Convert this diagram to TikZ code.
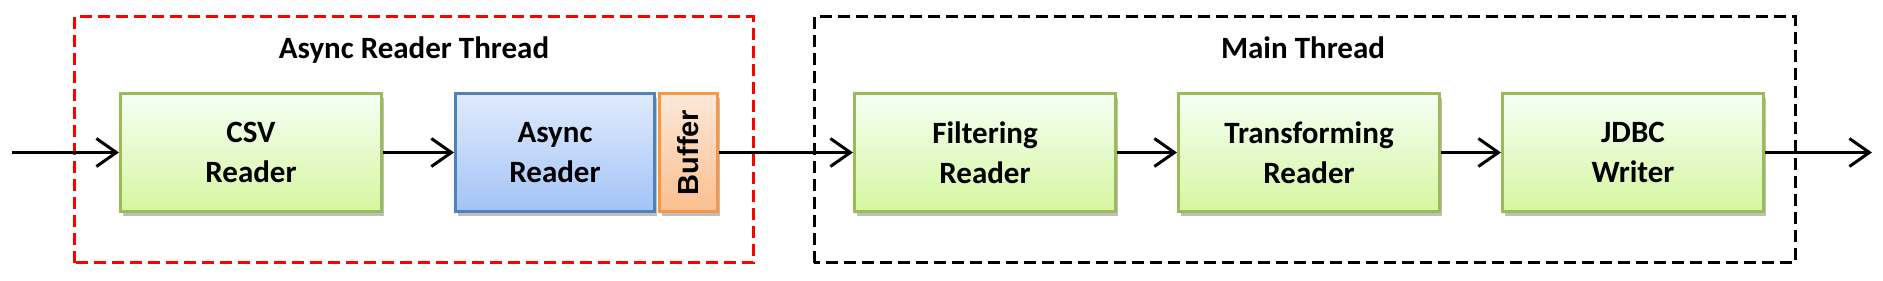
\documentclass[tikz,border=0pt]{standalone}
\usepackage{fontspec}
\setmainfont{Carlito}
\newfontfamily\bufferfont{Liberation Sans}
\usetikzlibrary{arrows.meta,shadows}

\definecolor{readergreen}{HTML}{9BBB59}
\definecolor{readerblue}{HTML}{4F81BD}
\definecolor{bufferorange}{HTML}{F79646}
\definecolor{threadred}{HTML}{FF0000}

\begin{document}
\begin{tikzpicture}[x=1pt,y=1pt,>={Straight Barb[length=20pt,width=28pt]},
    stage/.style={rectangle,line width=3pt,minimum height=118pt,align=center,
      font=\fontsize{31}{40}\selectfont\bfseries,
      drop shadow={shadow xshift=2pt,shadow yshift=-5pt,opacity=0.25,fill=black}},
    greenstage/.style={stage,draw=readergreen,top color=green!4!white,bottom color={rgb,255:red,214;green,246;blue,160}},
    bluestage/.style={stage,draw=readerblue,top color={rgb,255:red,224;green,235;blue,252},bottom color={rgb,255:red,163;green,195;blue,247}},
    bufferstage/.style={stage,draw=bufferorange,top color={rgb,255:red,253;green,232;blue,218},bottom color={rgb,255:red,251;green,191;blue,142}},
    thread/.style={line width=3pt,dash pattern=on 12pt off 6pt},
    flow/.style={->,line width=3pt},
    title/.style={anchor=base,font=\fontsize{31}{40}\selectfont\bfseries}]
    \useasboundingbox (0,0) rectangle (1883,281);
    % Thread frames (drawn first, behind the readers)
    \draw[thread,draw=threadred] (74,18) rectangle (753,264);
    \draw[thread,draw=black] (814,18) rectangle (1795,264);
    \node[title] (asynctitle) at (414,222) {Async Reader Thread};
    \node[title] (maintitle) at (1303,222) {Main Thread};
    % Readers and writer
    \node[greenstage,minimum width=261pt] (csv) at (251,128.5) {CSV\\Reader};
    \node[bluestage,minimum width=199pt] (async) at (555,128.5) {Async\\Reader};
    \node[bufferstage,minimum width=58pt] (buffer) at (688.5,128.5)
      {\rotatebox{90}{\bufferfont\fontsize{29}{30}\selectfont\bfseries Buffer}};
    \node[greenstage,minimum width=261pt] (filter) at (985,128.5) {Filtering\\Reader};
    \node[greenstage,minimum width=261pt] (transform) at (1309,128.5) {Transforming\\Reader};
    \node[greenstage,minimum width=261pt] (jdbc) at (1633,128.5) {JDBC\\Writer};
    % Data flow
    \coordinate (in) at (12,128.5);
    \coordinate (out) at (1872,128.5);
    \draw[flow] (in) -- (csv);
    \draw[flow] (csv) -- (async);
    \draw[flow] (buffer) -- (filter);
    \draw[flow] (filter) -- (transform);
    \draw[flow] (transform) -- (jdbc);
    \draw[flow] (jdbc) -- (out);
\end{tikzpicture}
\end{document}
